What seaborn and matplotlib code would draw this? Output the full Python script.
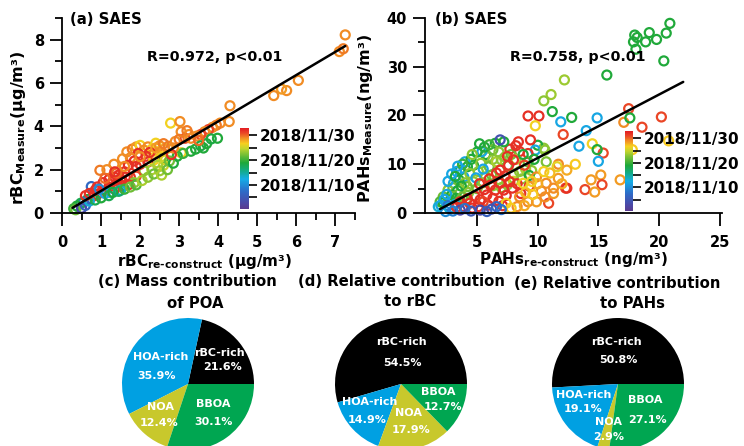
import numpy as np
import pandas as pd
import matplotlib
matplotlib.use("Agg")
import matplotlib.pyplot as plt
import matplotlib.dates as mdates
from matplotlib.cm import ScalarMappable
from matplotlib.colors import LinearSegmentedColormap, Normalize
from matplotlib.ticker import MultipleLocator, FixedLocator
import seaborn as sns

# ---------------- data ----------------
# (a) rBC: reconstructed vs measured, with sampling day of November 2018
rbc_recon = [
    7.25, 7.10, 7.20, 6.05, 5.75, 5.62, 5.42, 4.30, 4.28, 4.05,
    3.95, 3.85, 3.75, 3.65, 3.55, 3.45, 3.25, 3.15, 3.05, 3.20,
    2.78, 3.02, 3.05, 2.72, 3.30, 3.42, 3.55, 3.70, 3.82, 3.98,
    3.62, 2.95, 3.10, 2.60, 0.97, 1.15, 1.33, 1.55, 1.66, 1.80,
    1.90, 2.00, 2.10, 2.20, 2.30, 2.40, 2.50, 2.62, 2.72, 2.85,
    2.50, 2.35, 2.15, 1.95, 1.75, 1.85, 2.00, 2.20, 2.35, 2.55,
    2.65, 2.45, 2.60, 2.30, 2.10, 2.50, 2.75, 1.90, 1.70, 1.60,
    1.45, 1.50, 1.62, 1.75, 1.90, 1.85, 1.70, 1.55, 1.40, 1.30,
    1.20, 1.35, 1.50, 1.25, 1.00, 0.90, 0.80, 0.75, 0.65, 0.55,
    0.48, 0.38, 0.30, 0.35, 0.50, 0.60, 0.70, 0.85, 1.00, 1.10,
    1.20, 1.30, 1.45, 1.60, 1.75, 1.90, 2.05, 2.20, 2.35, 2.55,
    2.70, 2.85, 1.35, 1.20, 1.05, 0.90, 0.85, 0.95, 0.60, 0.70,
    1.10, 1.40, 1.60, 2.00, 1.35, 2.25, 2.40, 2.90, 3.00, 2.60,
    2.80, 3.30, 3.50,
]
rbc_measure = [
    8.22, 7.45, 7.58, 6.12, 5.65, 5.72, 5.42, 4.95, 4.22, 4.15,
    4.05, 3.95, 3.85, 3.75, 3.62, 3.55, 3.62, 3.45, 3.75, 3.80,
    4.15, 4.22, 2.78, 3.00, 2.85, 2.95, 3.10, 3.20, 3.42, 3.45,
    3.00, 2.62, 2.75, 2.55, 1.97, 2.00, 2.25, 2.50, 2.82, 2.95,
    3.05, 3.12, 2.90, 3.05, 2.95, 3.22, 3.10, 2.95, 3.08, 3.00,
    2.80, 2.72, 2.62, 2.75, 2.55, 2.40, 2.25, 2.35, 2.45, 2.60,
    2.45, 2.20, 2.20, 2.00, 1.95, 1.95, 2.40, 2.15, 2.20, 1.90,
    1.75, 1.55, 1.65, 1.65, 1.70, 1.40, 1.30, 1.25, 1.35, 1.45,
    1.20, 1.10, 1.05, 0.95, 0.95, 0.85, 0.78, 1.22, 0.62, 0.50,
    0.45, 0.32, 0.20, 0.15, 0.22, 0.35, 0.55, 0.60, 0.70, 0.90,
    0.80, 0.95, 1.00, 1.10, 1.20, 1.30, 1.50, 1.65, 1.80, 1.75,
    2.00, 2.30, 1.65, 1.55, 1.40, 1.20, 1.05, 1.10, 0.80, 0.90,
    1.60, 1.85, 2.15, 2.60, 1.90, 2.80, 3.00, 3.30, 3.40, 3.20,
    2.70, 3.45, 3.35,
]
rbc_day = [
    29, 29, 29.5, 29, 29, 28.5, 29, 29, 29, 29,
    29.5, 29, 31, 29, 31, 29, 29, 31, 29, 29.5,
    26.5, 29, 26.5, 26, 19, 19, 18.5, 19, 18.5, 19,
    19, 19, 20, 20, 29.5, 29, 29, 29, 29, 29.5,
    28.5, 26.5, 29, 29, 27, 26.5, 29, 28.5, 29.5, 29,
    29, 29, 32, 32, 29, 32, 32, 32, 26.5, 27,
    26, 24, 25, 24, 23, 23.5, 22, 32, 32, 32,
    32, 32, 32, 32, 31, 23, 32, 32, 32, 32,
    32, 32, 13, 14, 32, 32, 32, 7, 19, 8,
    18, 19, 20, 22, 3, 6, 13, 18, 19, 12,
    18, 19, 17, 20, 22, 21, 24, 23, 22, 24,
    22, 19, 32, 32, 32, 32, 32, 10, 32, 32,
    30, 30, 29, 29, 32, 32, 28.5, 29, 29.5, 29.5,
    32, 29, 30,
]

# (b) PAHs: reconstructed vs measured
pahs_recon = [
    20.9, 20.6, 19.8, 19.2, 18.9, 18.0, 17.9, 18.2, 18.1, 20.4,
    15.7, 12.2, 11.1, 10.5, 11.2, 10.1, 9.2, 9.8, 11.9, 12.8,
    12.1, 14.9, 14.0, 13.4, 14.5, 15.4, 15.0, 14.9, 13.1, 11.7,
    17.5, 17.1, 17.6, 18.6, 20.2, 20.8, 17.8, 16.8, 15.2, 14.4,
    13.9, 15.3, 14.7, 12.3, 11.3, 10.9, 11.3, 10.7, 11.7, 12.4,
    10.5, 10.0, 9.8, 10.6, 10.7, 11.6, 12.4, 9.4, 8.4, 9.2,
    8.5, 7.7, 7.2, 6.5, 6.9, 5.9, 5.7, 5.4, 6.3, 7.0,
    6.3, 4.7, 4.2, 3.6, 3.3, 3.9, 3.05, 3.5, 4.4, 5.1,
    5.7, 6.2, 6.75, 4.7, 4.2, 2.6, 2.2, 1.95, 1.8, 2.2,
    2.8, 2.9, 3.4, 3.0, 2.5, 2.3, 2.0, 2.6, 4.0, 4.5,
    5.0, 5.6, 6.0, 5.2, 4.6, 3.8, 3.4, 2.9, 2.6, 3.2,
    4.0, 5.3, 6.0, 6.6, 7.3, 7.8, 8.2, 7.5, 8.0, 8.5,
    9.0, 9.5, 9.2, 9.7, 8.8, 6.8, 5.5, 4.9, 3.7, 4.3,
    5.0, 5.5, 6.3, 7.0, 7.5, 8.0, 8.7, 9.3, 3.3, 3.8,
    2.7, 3.2, 3.6, 4.1, 6.9, 7.6, 8.0, 6.9, 6.5, 7.2,
    5.8, 5.25, 4.4, 3.9, 3.6, 5.9, 5.1, 7.7, 7.3, 6.1,
    5.6, 4.8, 4.2, 6.3, 6.8, 7.4, 7.9, 8.3, 6.0, 5.2,
    8.6, 7.1, 6.6, 8.9, 8.2, 7.5, 9.3, 4.6, 3.3, 5.5,
    8.5, 9.2, 9.9, 8.3, 10.6, 9.4, 9.9, 10.3, 9.0, 8.8,
    7.4, 7.8, 8.9, 10.0, 11.0, 12.0, 9.6, 10.5, 9.5, 6.6,
    5.25, 3.6, 5.8, 4.5, 6.2, 2.4, 4.0, 7.0, 3.0,
]
pahs_measure = [
    38.9, 36.9, 35.6, 37.0, 35.1, 36.5, 35.1, 36.0, 33.6, 31.2,
    28.3, 27.3, 24.3, 23.0, 20.8, 19.9, 19.9, 17.9, 18.7, 19.6,
    16.1, 19.5, 16.9, 13.7, 14.2, 12.3, 10.6, 13.0, 10.0, 10.0,
    21.4, 18.6, 19.5, 17.6, 19.7, 14.8, 13.0, 6.8, 7.8, 6.8,
    4.8, 5.8, 4.3, 5.1, 4.0, 2.0, 5.1, 6.1, 7.1, 5.1,
    13.3, 13.9, 12.9, 12.9, 10.5, 9.5, 8.8, 15.0, 14.6, 12.2,
    12.6, 13.1, 14.6, 14.3, 15.0, 11.5, 12.0, 12.6, 11.0, 10.9,
    13.0, 9.8, 9.5, 8.8, 8.5, 7.4, 6.1, 6.8, 8.1, 8.5,
    7.4, 7.8, 6.8, 6.4, 5.4, 4.7, 3.3, 2.3, 1.3, 2.1,
    2.7, 3.7, 4.6, 5.2, 3.8, 2.8, 1.6, 1.5, 10.5, 11.0,
    12.5, 13.5, 14.0, 14.2, 12.0, 10.0, 9.6, 8.0, 6.5, 7.5,
    6.2, 10.2, 9.5, 10.5, 11.5, 12.0, 11.0, 9.7, 8.0, 8.5,
    9.0, 8.7, 10.5, 11.0, 12.0, 12.5, 9.0, 7.2, 5.5, 4.2,
    5.0, 6.2, 5.6, 5.2, 5.8, 6.5, 7.0, 7.7, 3.0, 3.3,
    1.0, 1.8, 2.5, 2.8, 8.8, 9.8, 10.9, 6.1, 4.7, 4.7,
    3.7, 2.7, 2.0, 1.3, 2.3, 1.6, 1.3, 6.4, 7.6, 5.7,
    4.8, 3.5, 2.9, 3.0, 2.4, 3.6, 5.1, 6.0, 7.0, 6.0,
    4.0, 1.5, 8.2, 9.8, 13.8, 11.6, 5.5, 1.0, 1.2, 2.3,
    3.3, 2.3, 2.3, 1.3, 3.3, 5.4, 7.4, 4.5, 4.2, 6.1,
    2.0, 1.0, 1.5, 6.0, 8.2, 6.0, 3.8, 8.5, 6.5, 1.3,
    0.6, 0.6, 0.3, 0.4, 0.8, 0.3, 0.9, 0.7, 0.4,
]
pahs_day = [
    19, 19, 19, 19, 19, 19, 19, 19, 19, 19,
    19, 23.5, 23.5, 23, 19, 32, 32, 26.5, 12, 19,
    31, 12, 12, 12, 26.5, 31, 12, 19, 27, 29,
    31, 29, 19, 31, 31, 27, 27, 28.5, 28.5, 28.5,
    31, 31, 28.5, 31, 28.5, 31, 29, 29, 28.5, 32,
    23, 19, 12, 23, 22.5, 26, 28, 32, 32, 32,
    32, 32, 19, 19, 4, 23, 19, 12, 23, 23,
    22, 19, 19, 19, 12, 12, 12, 19, 23, 23,
    23, 22, 23, 23, 22, 23, 22, 21, 13, 19,
    20, 19, 19, 22, 12, 12, 12, 8, 12, 19,
    19, 19, 20, 19, 23, 20, 12, 12, 12, 19,
    23, 23, 22, 24, 23, 22, 24, 22, 23, 23,
    24, 23, 22, 19, 19, 23, 12, 12, 19, 23,
    22, 23, 23, 23, 23, 25, 23, 19, 19, 22,
    13, 13, 22, 23, 32, 32, 32, 32, 32, 32,
    32, 32, 32, 32, 32, 32, 32, 32, 32, 32,
    32, 32, 32, 32, 32, 32, 32, 32, 32, 32,
    32, 32, 32, 31, 32, 32, 32, 32, 32, 31,
    29, 29, 28.5, 29, 29, 28.5, 29, 29, 27.5, 26.5,
    26.5, 27, 28, 28, 27.5, 28, 27, 26.5, 26.5, 7,
    3, 3, 6, 5, 4, 10, 8, 8, 9,
]

# linear fits (slope, intercept, x range)
fit_a = dict(slope=1.07, intercept=-0.05, x=[0.27, 7.25])
fit_b = dict(slope=1.30, intercept=-1.71, x=[1.95, 22.0])
stat_a = "R=0.972, p<0.01"
stat_b = "R=0.758, p<0.01"

# pie charts: share of each factor (%)
factors = ["rBC-rich", "HOA-rich", "NOA", "BBOA"]
factor_colors = ["#000000", "#00a0e2", "#c8c82c", "#00a651"]
pie_c = [21.6, 35.9, 12.4, 30.1]
pie_d = [54.5, 14.9, 17.9, 12.7]
pie_e = [50.8, 19.1, 2.9, 27.1]
pie_titles = {
    "c": ("(c) Mass contribution", "of POA"),
    "d": ("(d) Relative contribution", "to rBC"),
    "e": ("(e) Relative contribution", "to PAHs"),
}

# colorbar dates
cb_start, cb_end = "2018-10-31 08:00", "2018-12-03"
cb_major = ["2018-11-10", "2018-11-20", "2018-11-30"]
cb_minor = ["2018-11-05", "2018-11-15", "2018-11-25"]

# ---------------- style ----------------
sns.set_theme(style="ticks")
plt.rcParams.update({
    "font.family": ["DejaVu Sans"],
    "font.weight": "bold",
    "axes.labelweight": "bold",
    "mathtext.default": "bf",
    "axes.linewidth": 1.3,
    "axes.edgecolor": "black",
    "axes.labelcolor": "black",
    "text.color": "black",
    "xtick.color": "black",
    "ytick.color": "black",
    "xtick.direction": "out",
    "ytick.direction": "out",
    "xtick.major.size": 9, "ytick.major.size": 9,
    "xtick.minor.size": 5, "ytick.minor.size": 5,
    "xtick.major.width": 1.3, "ytick.major.width": 1.3,
    "xtick.minor.width": 1.3, "ytick.minor.width": 1.3,
    "xtick.major.pad": 6.5, "ytick.major.pad": 4,
    "xtick.labelsize": 10.5, "ytick.labelsize": 10.5,
})

W, H = 744, 446


def px_box(left, top, right, bottom):
    return [left / W, 1 - bottom / H, (right - left) / W, (bottom - top) / H]


cmap = LinearSegmentedColormap.from_list("campaign", [
    (0.00, "#5a3a8e"), (0.08, "#4a4aa8"), (0.22, "#2d6cc8"),
    (0.37, "#15ace6"), (0.47, "#12ab8a"), (0.57, "#1ea83a"),
    (0.67, "#74bf36"), (0.75, "#c4d52c"), (0.81, "#f7d01f"),
    (0.88, "#f18a24"), (0.94, "#ea4726"), (1.00, "#e31d23"),
])
norm = Normalize(vmin=mdates.date2num(pd.Timestamp(cb_start)),
                 vmax=mdates.date2num(pd.Timestamp(cb_end)))


def day_to_num(days):
    stamps = pd.Timestamp("2018-11-01") + pd.to_timedelta(np.asarray(days, float) - 1, unit="D")
    return mdates.date2num(stamps.to_pydatetime())


def open_scatter(ax, x, y, days):
    df = pd.DataFrame({"x": x, "y": y, "date": day_to_num(days)})
    sns.scatterplot(data=df, x="x", y="y", hue="date", palette=cmap, hue_norm=norm,
                    legend=False, s=42, linewidth=1.6, ax=ax, zorder=2, clip_on=False)
    pts = ax.collections[-1]
    pts.set_edgecolors(pts.get_facecolors())
    pts.set_facecolors("none")


def fit_line(ax, fit):
    xs = np.array(fit["x"])
    sns.lineplot(x=xs, y=fit["slope"] * xs + fit["intercept"], color="black",
                 linewidth=1.8, ax=ax, zorder=3)


def add_colorbar(box):
    cax = fig.add_axes(box)
    cb = fig.colorbar(ScalarMappable(norm=norm, cmap=cmap), cax=cax)
    cb.outline.set_visible(False)
    major = pd.to_datetime(cb_major)
    cb.set_ticks(mdates.date2num(major.to_pydatetime()),
                 labels=[d.strftime("%Y/%m/%d") for d in major])
    cax.yaxis.set_minor_locator(FixedLocator(mdates.date2num(pd.to_datetime(cb_minor).to_pydatetime())))
    cax.tick_params(which="both", length=5.5, width=1.2, pad=2.5, labelsize=10.9)
    return cb


fig = plt.figure(figsize=(W / 100, H / 100), dpi=100)

# ---------------- (a) ----------------
ax_a = fig.add_axes(px_box(62, 18, 355, 213))
open_scatter(ax_a, rbc_recon, rbc_measure, rbc_day)
fit_line(ax_a, fit_a)
ax_a.set_xlim(0, 7.5)
ax_a.set_ylim(0, 9)
ax_a.xaxis.set_major_locator(MultipleLocator(1))
ax_a.xaxis.set_minor_locator(MultipleLocator(0.5))
ax_a.yaxis.set_major_locator(MultipleLocator(2))
ax_a.yaxis.set_minor_locator(MultipleLocator(1))
ax_a.set_xlabel("rBC$_{re‐construct}$ (μg/m³)", fontsize=11)
ax_a.set_ylabel("rBC$_{Measure}$(μg/m³)", fontsize=11.5)
ax_a.xaxis.set_label_coords(0.485, -0.251)
ax_a.xaxis.label.set_va("center")
ax_a.yaxis.set_label_coords(-0.15, 0.436)
ax_a.yaxis.label.set_va("center")
ax_a.text(0.027, 0.99, "(a) SAES", transform=ax_a.transAxes, fontsize=10.7,
          fontweight="bold", ha="left", va="center")
ax_a.text(0.29, 0.80, stat_a, transform=ax_a.transAxes, fontsize=10.3,
          fontweight="bold", ha="left", va="center")
sns.despine(ax=ax_a)
add_colorbar(px_box(240, 128, 249, 209))

# ---------------- (b) ----------------
ax_b = fig.add_axes(px_box(425, 18, 722, 213))
open_scatter(ax_b, pahs_recon, pahs_measure, pahs_day)
fit_line(ax_b, fit_b)
ax_b.set_xlim(0.7, 25.2)
ax_b.set_ylim(0, 40)
ax_b.xaxis.set_major_locator(MultipleLocator(5))
ax_b.yaxis.set_major_locator(MultipleLocator(10))
ax_b.yaxis.set_minor_locator(MultipleLocator(5))
ax_b.set_xlabel("PAHs$_{re‐construct}$ (ng/m³)", fontsize=11)
ax_b.set_ylabel("PAHs$_{Measure}$(ng/m³)", fontsize=11.5)
ax_b.xaxis.set_label_coords(0.502, -0.241)
ax_b.xaxis.label.set_va("center")
ax_b.yaxis.set_label_coords(-0.199, 0.487)
ax_b.yaxis.label.set_va("center")
ax_b.text(0.034, 0.99, "(b) SAES", transform=ax_b.transAxes, fontsize=10.7,
          fontweight="bold", ha="left", va="center")
ax_b.text(0.286, 0.80, stat_b, transform=ax_b.transAxes, fontsize=10.3,
          fontweight="bold", ha="left", va="center")
sns.despine(ax=ax_b)
add_colorbar(px_box(625, 131, 633, 211))

# ---------------- pies ----------------
pie_center_x = {"c": 188, "d": 401, "e": 618}
pie_center_y, pie_r = 384, 66
pie_values = {"c": pie_c, "d": pie_d, "e": pie_e}
# label / percentage anchor points inside each pie (unit radius)
pie_name_pos = {
    "c": [(0.47, 0.47), (-0.42, 0.41), (-0.41, -0.35), (0.38, -0.30)],
    "d": [(0.00, 0.64), (-0.47, -0.27), (0.12, -0.44), (0.56, -0.12)],
    "e": [(-0.03, 0.64), (-0.52, -0.17), (-0.14, -0.58), (0.41, -0.24)],
}
pie_pct_pos = {
    "c": [(0.52, 0.26), (-0.47, 0.12), (-0.44, -0.59), (0.39, -0.58)],
    "d": [(0.02, 0.32), (-0.52, -0.55), (0.15, -0.70), (0.64, -0.35)],
    "e": [(0.00, 0.36), (-0.53, -0.38), (-0.14, -0.80), (0.44, -0.55)],
}
title_pos = {"c": [(187, 282), (195, 303)],
             "d": [(401, 282), (410, 302)],
             "e": [(617, 284), (632, 303)]}

for key in ["c", "d", "e"]:
    cx = pie_center_x[key]
    ax = fig.add_axes(px_box(cx - pie_r, pie_center_y - pie_r, cx + pie_r, pie_center_y + pie_r))
    ax.pie(pie_values[key], colors=factor_colors, startangle=0, counterclock=True,
           radius=1, wedgeprops=dict(linewidth=0))
    ax.set_xlim(-1, 1)
    ax.set_ylim(-1, 1)
    ax.set_aspect("equal")
    ax.axis("off")
    for name, val, npos, ppos in zip(factors, pie_values[key], pie_name_pos[key], pie_pct_pos[key]):
        ax.text(*npos, name, color="white", fontsize=8, fontweight="bold",
                ha="center", va="center", clip_on=False)
        ax.text(*ppos, f"{val:.1f}%", color="white", fontsize=8, fontweight="bold",
                ha="center", va="center", clip_on=False)
    for line, (tx, ty) in zip(pie_titles[key], title_pos[key]):
        fig.text(tx / W, 1 - ty / H, line, fontsize=10.7, fontweight="bold",
                 ha="center", va="center")

fig.savefig("out.png", dpi=100)
